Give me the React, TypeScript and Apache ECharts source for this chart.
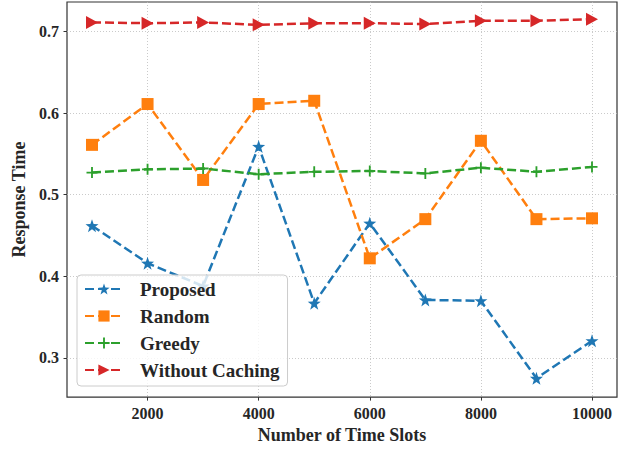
import React, { useEffect, useRef } from "react";
import * as echarts from "echarts";

const xValues = [1000, 2000, 3000, 4000, 5000, 6000, 7000, 8000, 9000, 10000];
const proposed = [0.462, 0.416, 0.388, 0.559, 0.367, 0.465, 0.371, 0.370, 0.275, 0.321];
const random = [0.561, 0.611, 0.518, 0.611, 0.615, 0.422, 0.470, 0.566, 0.470, 0.471];
const greedy = [0.527, 0.531, 0.532, 0.525, 0.528, 0.529, 0.526, 0.533, 0.528, 0.534];
const withoutCaching = [0.711, 0.710, 0.711, 0.708, 0.710, 0.710, 0.709, 0.713, 0.713, 0.715];

const xTicks = [2000, 4000, 6000, 8000, 10000];
const yTicks = [0.3, 0.4, 0.5, 0.6, 0.7];

const FONT = "'Liberation Serif', 'Times New Roman', serif";
const TEXT = "#262626";

const STAR =
  "path://M0,-10 L2.35,-3.24 L9.51,-3.09 L3.8,1.24 L5.88,8.09 L0,4 L-5.88,8.09 L-3.8,1.24 L-9.51,-3.09 L-2.35,-3.24 Z";
const PLUS =
  "path://M-1,-6 L1,-6 L1,-1 L6,-1 L6,1 L1,1 L1,6 L-1,6 L-1,1 L-6,1 L-6,-1 L-1,-1 Z";
const TRI = "path://M0,0 L12,6.5 L0,13 Z";

export default function App() {
  const ref = useRef<HTMLDivElement>(null);
  useEffect(() => {
    if (!ref.current) return;
    const chart = echarts.init(ref.current, null, { renderer: "svg" });
    const mk = (
      name: string,
      arr: number[],
      color: string,
      symbol: string,
      size: number | number[]
    ) => ({
      name,
      type: "line",
      data: xValues.map((x, i) => [x, arr[i]]),
      symbol,
      symbolSize: size,
      symbolKeepAspect: false,
      showAllSymbol: true,
      lineStyle: { color, width: 2.5, type: [9, 4] },
      itemStyle: { color, borderWidth: 0 },
      z: 3,
    });
    chart.setOption({
      animation: false,
      backgroundColor: "#ffffff",
      grid: {
        left: 67,
        top: 2,
        right: 10,
        bottom: 51,
        show: true,
        borderColor: "#333333",
        borderWidth: 1.2,
        backgroundColor: "transparent",
        containLabel: false,
      },
      xAxis: {
        type: "value",
        min: 550,
        max: 10450,
        splitNumber: 5,
        name: "Number of Time Slots",
        nameLocation: "middle",
        nameGap: 27,
        nameTextStyle: { fontFamily: FONT, fontWeight: "bold", fontSize: 18, color: TEXT },
        axisLine: { show: false },
        axisTick: {
          show: true,
          inside: false,
          length: 3.5,
          customValues: xTicks,
          lineStyle: { color: "#333333", width: 1 },
        },
        axisLabel: {
          customValues: xTicks,
          margin: 8,
          fontFamily: FONT,
          fontWeight: "bold",
          fontSize: 16,
          color: TEXT,
          formatter: (v: number) => String(v),
        },
        splitLine: {
          show: true,
          lineStyle: { color: "#bdbdbd", width: 0.8, type: [1, 2] },
        },
      },
      yAxis: {
        type: "value",
        min: 0.252,
        max: 0.736,
        splitNumber: 5,
        name: "Response Time",
        nameLocation: "middle",
        nameGap: 37,
        nameRotate: 90,
        nameTextStyle: { fontFamily: FONT, fontWeight: "bold", fontSize: 18, color: TEXT },
        axisLine: { show: false },
        axisTick: {
          show: true,
          length: 3.5,
          customValues: yTicks,
          lineStyle: { color: "#333333", width: 1 },
        },
        axisLabel: {
          customValues: yTicks,
          margin: 8,
          fontFamily: FONT,
          fontWeight: "bold",
          fontSize: 16,
          color: TEXT,
          formatter: (v: number) => v.toFixed(1),
        },
        splitLine: {
          show: true,
          lineStyle: { color: "#bdbdbd", width: 0.8, type: [1, 2] },
        },
      },
      legend: {
        left: 77,
        top: 275,
        orient: "vertical",
        itemWidth: 38,
        itemHeight: 14,
        itemGap: 7,
        padding: [4, 8, 6, 7],
        backgroundColor: "rgba(255,255,255,0.8)",
        borderColor: "#cccccc",
        borderWidth: 1,
        borderRadius: 4,
        z: 10,
        textStyle: {
          fontFamily: FONT,
          fontWeight: "bold",
          fontSize: 19,
          color: TEXT,
          lineHeight: 20,
          padding: [0, 0, 0, 12],
        },
        data: ["Proposed", "Random", "Greedy", "Without Caching"],
      },
      series: [
        mk("Proposed", proposed, "#1f77b4", STAR, 13),
        mk("Random", random, "#ff7f0e", "rect", 12),
        mk("Greedy", greedy, "#2ca02c", PLUS, 11),
        mk("Without Caching", withoutCaching, "#d62728", TRI, [12, 13]),
      ],
    });
    return () => chart.dispose();
  }, []);
  return (
    <div
      ref={ref}
      style={{ position: "absolute", left: 0, top: 0, width: 627, height: 449 }}
    />
  );
}
